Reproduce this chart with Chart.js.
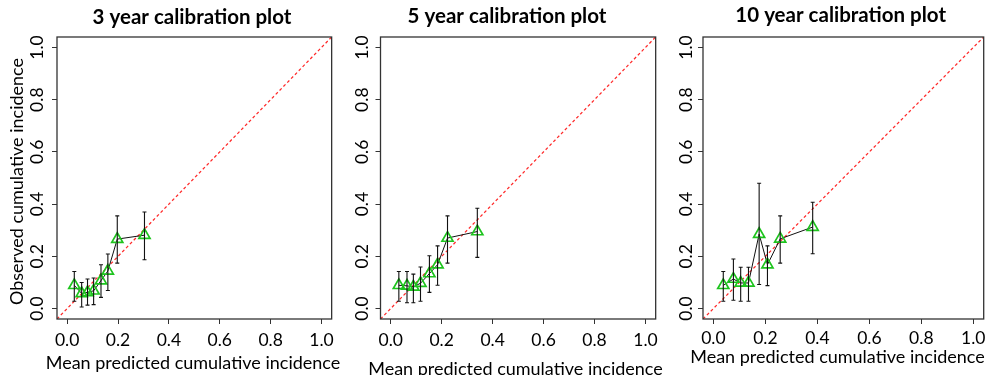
<!DOCTYPE html>
<html>
<head>
<meta charset="utf-8">
<script src="https://cdn.jsdelivr.net/npm/chart.js@4.4.0/dist/chart.umd.min.js"></script>
<style>
  body { margin: 0; background: #fff; }
  #wrap { position: relative; width: 994px; height: 375px; overflow: hidden; }
  .panel { position: absolute; top: 0; height: 375px; }
</style>
</head>
<body>
<div id="wrap">
  <div class="panel" style="left:0px;width:340px"><canvas id="chart1"></canvas></div>
  <div class="panel" style="left:340px;width:324px"><canvas id="chart2"></canvas></div>
  <div class="panel" style="left:664px;width:330px"><canvas id="chart3"></canvas></div>
</div>
<script>
const titles = ["3 year calibration plot", "5 year calibration plot", "10 year calibration plot"];
const xTitle = "Mean predicted cumulative incidence";
const yTitle = "Observed cumulative incidence";
const tickValues = [0, 0.2, 0.4, 0.6, 0.8, 1.0];
const axisMin = -0.04;
const axisMax = 1.04;

// 3 year
const pred3 = [0.028, 0.057, 0.080, 0.104, 0.133, 0.160, 0.197, 0.304];
const obs3 = [0.089, 0.058, 0.062, 0.068, 0.107, 0.144, 0.266, 0.281];
const lo3 = [0.028, 0.006, 0.013, 0.015, 0.043, 0.069, 0.174, 0.187];
const hi3 = [0.142, 0.100, 0.113, 0.117, 0.168, 0.209, 0.355, 0.370];

// 5 year
const pred5 = [0.032, 0.064, 0.089, 0.117, 0.152, 0.184, 0.223, 0.340];
const obs5 = [0.089, 0.087, 0.083, 0.097, 0.134, 0.168, 0.270, 0.295];
const lo5 = [0.028, 0.022, 0.022, 0.028, 0.062, 0.089, 0.174, 0.196];
const hi5 = [0.142, 0.142, 0.132, 0.159, 0.202, 0.240, 0.355, 0.384];

// 10 year
const pred10 = [0.038, 0.077, 0.105, 0.135, 0.176, 0.208, 0.257, 0.382];
const obs10 = [0.089, 0.113, 0.098, 0.098, 0.285, 0.168, 0.267, 0.312];
const lo10 = [0.028, 0.032, 0.028, 0.028, 0.092, 0.088, 0.174, 0.210];
const hi10 = [0.142, 0.190, 0.158, 0.158, 0.480, 0.240, 0.355, 0.407];

const FONT = "Lato";
const boxColor = "#333";
const labelSize = 17.5;

// page positions of each panel (canvas, plot box, texts)
const panels = [
  { id: "chart1", canvasLeft: 0, canvasWidth: 340, areaLeft: 57, areaRight: 337,
    titleX: 192, titleY: 17, xTitleX: 193, xTitleY: 363, tickX: 37.5, tickPad: 6,
    yTitleX: 16.7, yTitleY: 181.5, showYTitle: true,
    pred: pred3, obs: obs3, lo: lo3, hi: hi3, title: titles[0] },
  { id: "chart2", canvasLeft: 340, canvasWidth: 324, areaLeft: 380.5, areaRight: 659.7,
    titleX: 507, titleY: 16.5, xTitleX: 515.5, xTitleY: 369, tickX: 362.5, tickPad: 6,
    showYTitle: false,
    pred: pred5, obs: obs5, lo: lo5, hi: hi5, title: titles[1] },
  { id: "chart3", canvasLeft: 664, canvasWidth: 330, areaLeft: 703, areaRight: 983.7,
    titleX: 840.7, titleY: 15.5, xTitleX: 837.5, xTitleY: 357, tickX: 686, tickPad: 4,
    showYTitle: false,
    pred: pred10, obs: obs10, lo: lo10, hi: hi10, title: titles[2] },
];

const areaTop = 37;
const areaBottom = 319;

const errorBars = {
  id: "errorBars",
  afterDatasetsDraw(chart) {
    const ds = chart.data.datasets[0];
    const meta = chart.getDatasetMeta(0);
    const ctx = chart.ctx;
    const y = chart.scales.y;
    ctx.save();
    ctx.strokeStyle = "#111";
    ctx.lineWidth = 1.1;
    meta.data.forEach((pt, i) => {
      const x = pt.x;
      const yLo = y.getPixelForValue(ds.lower[i]);
      const yHi = y.getPixelForValue(ds.upper[i]);
      ctx.beginPath();
      ctx.moveTo(x, yLo);
      ctx.lineTo(x, yHi);
      ctx.moveTo(x - 2, yLo);
      ctx.lineTo(x + 2, yLo);
      ctx.moveTo(x - 2, yHi);
      ctx.lineTo(x + 2, yHi);
      ctx.stroke();
    });
    ctx.restore();
  },
};

const panelText = {
  id: "panelText",
  afterDraw(chart, args, opts) {
    const p = opts.panel;
    const ctx = chart.ctx;
    const area = chart.chartArea;
    const yScale = chart.scales.y;
    const off = p.canvasLeft;
    ctx.save();
    ctx.strokeStyle = boxColor;
    ctx.lineWidth = 1.3;
    ctx.strokeRect(area.left, area.top, area.right - area.left, area.bottom - area.top);

    ctx.fillStyle = "#000";
    ctx.textAlign = "center";
    ctx.textBaseline = "middle";
    ctx.font = "bold 20.5px " + FONT;
    ctx.fillText(p.title, p.titleX - off, p.titleY);

    ctx.font = labelSize + "px " + FONT;
    tickValues.forEach((v) => {
      const yy = yScale.getPixelForValue(v);
      ctx.save();
      ctx.translate(p.tickX - off, yy);
      ctx.rotate(-Math.PI / 2);
      ctx.fillText(v.toFixed(1), 0, 0);
      ctx.restore();
    });

    ctx.font = "18px " + FONT;
    ctx.fillText(xTitle, p.xTitleX - off, p.xTitleY);

    if (p.showYTitle) {
      ctx.save();
      ctx.translate(p.yTitleX - off, p.yTitleY);
      ctx.rotate(-Math.PI / 2);
      ctx.fillText(yTitle, 0, 0);
      ctx.restore();
    }
    ctx.restore();
  },
};

const makeChart = function (p) {
  const points = p.pred.map((x, i) => ({ x: x, y: p.obs[i] }));
  return new Chart(document.getElementById(p.id), {
    type: "scatter",
    data: {
      datasets: [
        {
          data: points,
          lower: p.lo,
          upper: p.hi,
          showLine: true,
          borderColor: "#111",
          borderWidth: 1,
          pointStyle: "triangle",
          pointRadius: 6.4,
          pointBorderWidth: 1.7,
          pointBorderColor: "#1ec41e",
          pointBackgroundColor: "rgba(0,0,0,0)",
        },
        {
          data: [
            { x: axisMin, y: axisMin },
            { x: axisMax, y: axisMax },
          ],
          showLine: true,
          borderColor: "#ff2a2a",
          borderWidth: 1.25,
          borderDash: [3, 2.5],
          pointRadius: 0,
        },
      ],
    },
    options: {
      responsive: true,
      maintainAspectRatio: false,
      animation: false,
      layout: {
        padding: { top: areaTop, left: 0, bottom: 0, right: p.canvasLeft + p.canvasWidth - p.areaRight },
      },
      plugins: {
        legend: { display: false },
        tooltip: { enabled: false },
        panelText: { panel: p },
      },
      scales: {
        x: {
          type: "linear",
          min: axisMin,
          max: axisMax,
          afterBuildTicks: (s) => {
            s.ticks = tickValues.map((v) => ({ value: v }));
          },
          afterFit: (s) => {
            s.height = 375 - areaBottom;
          },
          border: { display: false },
          grid: { drawOnChartArea: false, drawTicks: true, tickLength: 5, color: boxColor },
          ticks: {
            autoSkip: false,
            maxRotation: 0,
            padding: p.tickPad,
            color: "#000",
            font: { family: FONT, size: labelSize },
            callback: (v) => Number(v).toFixed(1),
          },
        },
        y: {
          type: "linear",
          min: axisMin,
          max: axisMax,
          afterBuildTicks: (s) => {
            s.ticks = tickValues.map((v) => ({ value: v }));
          },
          afterFit: (s) => {
            s.width = p.areaLeft - p.canvasLeft;
          },
          border: { display: false },
          grid: { drawOnChartArea: false, drawTicks: true, tickLength: 5, color: boxColor },
          ticks: { display: false },
        },
      },
    },
    plugins: [errorBars, panelText],
  });
};

panels.forEach((p) => makeChart(p));
</script>
</body>
</html>
